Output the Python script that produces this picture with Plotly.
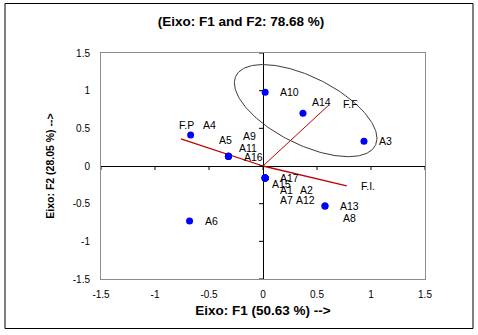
import numpy as np
import plotly.graph_objects as go

# Observations (factor scores on F1 / F2)
obs_names = ["A10", "A14", "A3", "A4", "A5", "A9", "A11", "A16",
             "A17", "A15", "A1", "A2", "A7", "A12", "A13", "A8", "A6"]
obs_f1 = [0.02, 0.37, 0.935, -0.67, -0.32, -0.32, -0.32, -0.32,
          0.02, 0.02, 0.02, 0.02, 0.02, 0.02, 0.574, 0.574, -0.68]
obs_f2 = [0.98, 0.70, 0.33, 0.41, 0.13, 0.13, 0.13, 0.13,
          -0.16, -0.16, -0.16, -0.16, -0.16, -0.16, -0.53, -0.53, -0.73]

# Label offsets (pixels) for each observation label
lab_dx = [13, 7, 13, 10, -11, 13, 9, 14, 13, 5, 13, 33, 13, 29, 13, 16, 13]
lab_dy = [0, 11, 0, 10, 16, 20, 8, -1, 0, -6, -12, -12, -22, -22, 0, -12, 0]

# Variable vectors
var_names = ["F.F", "F.P", "F.I."]
var_f1 = [0.61, -0.76, 0.775]
var_f2 = [0.81, 0.36, -0.265]
var_width = [1.0, 1.3, 1.3]
var_lab_dx = [12, -4, 12]
var_lab_dy = [1, 14, 0]

# Group ellipse: centre and half-axis vectors (data units)
ell_center = (0.395, 0.735)
ell_u = (0.645, -0.462)
ell_v = (-0.14, -0.40)

tick_vals = [-1.5, -1, -0.5, 0, 0.5, 1, 1.5]
tick_text = ["-1.5", "-1", "-0.5", "0", "0.5", "1", "1.5"]

W, H = 478, 335
ML, MR, MT, MB = 101, 53, 53, 56
PW, PH = W - ML - MR, H - MT - MB
FONT = "Arial, Liberation Sans, sans-serif"

fig = go.Figure()

# ellipse
t = np.linspace(0, 2 * np.pi, 200)
ex = ell_center[0] + ell_u[0] * np.cos(t) + ell_v[0] * np.sin(t)
ey = ell_center[1] + ell_u[1] * np.cos(t) + ell_v[1] * np.sin(t)
fig.add_trace(go.Scatter(x=ex, y=ey, mode="lines",
                         line=dict(color="#3a3a3a", width=1),
                         hoverinfo="skip", showlegend=False))

# vectors from origin
for name, vx, vy, w in zip(var_names, var_f1, var_f2, var_width):
    fig.add_trace(go.Scatter(x=[0, vx], y=[0, vy], mode="lines",
                             line=dict(color="#c00000", width=w),
                             showlegend=False, hoverinfo="skip"))

# observation points
fig.add_trace(go.Scatter(x=obs_f1, y=obs_f2, mode="markers",
                         marker=dict(color="#0000ff", size=7, line=dict(width=0)),
                         showlegend=False))

# observation labels
for n, x, y, dx, dy in zip(obs_names, obs_f1, obs_f2, lab_dx, lab_dy):
    fig.add_annotation(x=x, y=y, text=n, showarrow=False, xanchor="left",
                       yanchor="middle", xshift=dx, yshift=dy,
                       font=dict(family=FONT, size=10.5, color="black"))

# vector labels
for n, x, y, dx, dy in zip(var_names, var_f1, var_f2, var_lab_dx, var_lab_dy):
    fig.add_annotation(x=x, y=y, text=n, showarrow=False, xanchor="left",
                       yanchor="middle", xshift=dx, yshift=dy,
                       font=dict(family=FONT, size=10.5, color="black"))

# tick marks on the crossing axes
shapes = []
for v in tick_vals:
    shapes.append(dict(type="line", xref="x", yref="y", ysizemode="pixel",
                       yanchor=0, x0=v, x1=v, y0=0, y1=-4,
                       line=dict(color="black", width=1)))
    shapes.append(dict(type="line", xref="x", yref="y", xsizemode="pixel",
                       xanchor=0, x0=-4, x1=0, y0=v, y1=v,
                       line=dict(color="black", width=1)))

# outer chart frame
def px_x(p):
    return (p - ML) / PW

def px_y(p):
    return 1 - (p - MT) / PH

shapes.append(dict(type="rect", xref="paper", yref="paper",
                   x0=px_x(5), x1=px_x(473), y0=px_y(3.5), y1=px_y(328.5),
                   line=dict(color="black", width=1), layer="below"))

fig.update_layout(
    width=W, height=H,
    margin=dict(l=ML, r=MR, t=MT, b=MB),
    paper_bgcolor="white", plot_bgcolor="white",
    shapes=shapes,
    font=dict(family=FONT, color="black"),
    title=dict(text="<b>(Eixo: F1 and F2: 78.68 %)</b>", x=241 / W, xanchor="center",
               y=1 - 21 / H, yanchor="middle",
               font=dict(family=FONT, size=13.5, color="black")),
    xaxis=dict(range=[-1.5, 1.5], tickvals=tick_vals, ticktext=tick_text,
               showgrid=False, zeroline=True, zerolinecolor="black", zerolinewidth=1,
               showline=True, mirror=True, linecolor="#8c8c8c", linewidth=1,
               ticks="", ticklabelstandoff=6, tickfont=dict(size=10),
               title=dict(text="<b>Eixo: F1 (50.63 %) --></b>", standoff=6,
                          font=dict(size=13.5))),
    yaxis=dict(range=[-1.5, 1.5], tickvals=tick_vals, ticktext=tick_text,
               showgrid=False, zeroline=True, zerolinecolor="black", zerolinewidth=1,
               showline=True, mirror=True, linecolor="#8c8c8c", linewidth=1,
               ticks="", ticklabelstandoff=8, tickfont=dict(size=10),
               title=dict(text="<b>Eixo: F2 (28.05 %) --></b>", standoff=16,
                          font=dict(size=10.5))),
)

fig.write_html("out.html")
